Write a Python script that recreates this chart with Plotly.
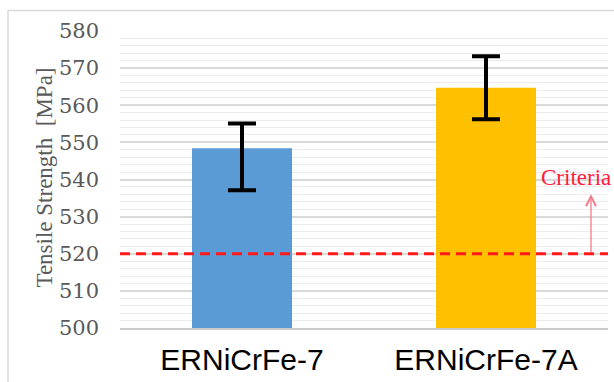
import plotly.graph_objects as go

# Tensile strength of two filler metals with error bars and the acceptance criterion
categories = ["ERNiCrFe-7", "ERNiCrFe-7A"]
strength = [548.4, 564.7]
err_plus = [6.7, 8.5]
err_minus = [11.3, 8.5]
criteria = 520
y_ticks = [500, 510, 520, 530, 540, 550, 560, 570, 580]
bar_colors = ["#5b9bd5", "#ffc000"]

W, H = 614, 382
L, R, T, B = 120, 6, 31, 47
SERIF = "Liberation Serif"
SANS = "Liberation Sans"

fig = go.Figure()
fig.add_trace(go.Bar(
    x=categories,
    y=[v - y_ticks[0] for v in strength],
    base=y_ticks[0],
    marker=dict(color=bar_colors, line=dict(width=0)),
    width=0.41,
    error_y=dict(type="data", symmetric=False, array=err_plus, arrayminus=err_minus,
                 color="black", thickness=4, width=14),
    showlegend=False,
))

fig.update_layout(
    width=W, height=H,
    margin=dict(l=L, r=R, t=T, b=B),
    paper_bgcolor="white", plot_bgcolor="white",
    font=dict(family=SERIF, color="#595959"),
    bargap=0.59,
)
fig.update_xaxes(
    showgrid=False, showline=True, linecolor="#cccccc", linewidth=2,
    ticks="", tickfont_family=SANS, tickfont_size=30, tickfont_color="black",
    ticklabelstandoff=4,
)
fig.update_yaxes(
    range=[y_ticks[0], y_ticks[-1]], tickmode="array", tickvals=y_ticks,
    ticktext=[str(v) for v in y_ticks], ticks="",
    showgrid=True, gridcolor="#d9d9d9", gridwidth=1.5, zeroline=False,
    minor=dict(dtick=2, showgrid=True, gridcolor="#ececec", gridwidth=1),
    tickfont_family="DejaVu Serif", tickfont_size=21, tickfont_color="#595959",
    ticklabelstandoff=20,
)

# criterion line
fig.add_shape(type="line", xref="paper", yref="y", x0=0, x1=1, y0=criteria, y1=criteria,
              line=dict(color="#ff1a1a", width=3, dash="10px,6px"), layer="above")

# chart border
fig.add_shape(type="rect", xref="paper", yref="paper",
              x0=(8 - L) / (W - L - R), x1=1.05,
              y0=-0.2, y1=(H - B - 10) / (H - T - B),
              line=dict(color="#d9d9d9", width=1.5), fillcolor="rgba(0,0,0,0)", layer="below")

px_to_x = lambda p: (p - L) / (W - L - R)
px_to_y = lambda p: (H - B - p) / (H - T - B)

fig.add_annotation(
    text="Tensile Strength&nbsp;&nbsp;[MPa]", xref="paper", yref="paper",
    x=px_to_x(45), y=px_to_y(181), xanchor="center", yanchor="middle",
    textangle=-90, showarrow=False,
    font=dict(family=SERIF, size=23, color="#595959"),
)

fig.add_annotation(
    text="Criteria", xref="paper", yref="paper", x=px_to_x(576), y=px_to_y(181),
    xanchor="center", yanchor="middle", showarrow=False,
    font=dict(family=SERIF, size=23, color="#ff1a3c"),
)

fig.add_annotation(
    xref="x domain", yref="y", x=px_to_x(591), y=criteria + (257 - 196) / 3.8,
    axref="x domain", ayref="y", ax=px_to_x(591), ay=criteria,
    text="", showarrow=True, arrowhead=5, arrowsize=1.5, arrowwidth=1.3, arrowcolor="#f27a8a",
)

fig.write_html("out.html")
